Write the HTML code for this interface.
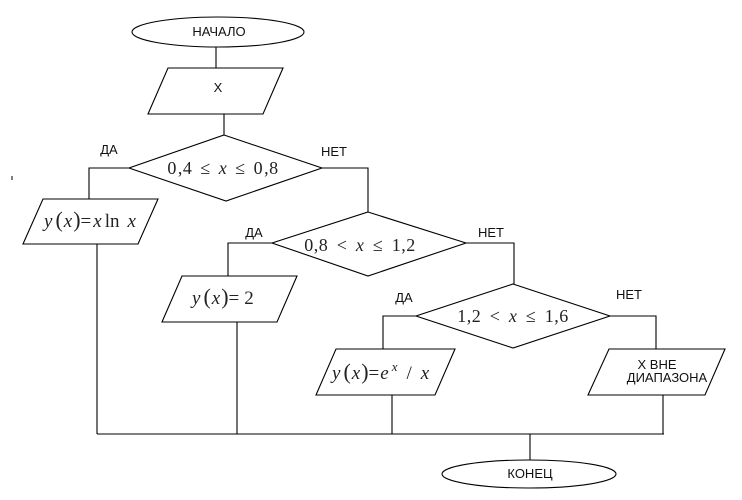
<!DOCTYPE html>
<html>
<head>
<meta charset="utf-8">
<style>
  html,body{margin:0;padding:0;background:#fff;}
  svg{display:block;}
  .lbl{font-family:"Liberation Sans",Arial,sans-serif;font-size:13px;fill:#111;}
  .m{font-family:"Liberation Serif","Times New Roman",serif;font-size:18px;fill:#222;}
  .i{font-style:italic;}
</style>
</head>
<body>
<svg width="742" height="500" viewBox="0 0 742 500" xmlns="http://www.w3.org/2000/svg">
  <rect width="742" height="500" fill="#fff"/>
  <g fill="none" stroke="#000" stroke-width="1.1">
    <!-- start -->
    <ellipse cx="218" cy="32" rx="86" ry="15"/>
    <line x1="216" y1="47" x2="216" y2="68"/>
    <polygon points="168,68 283,68 263,114 148,114"/>
    <line x1="224" y1="114" x2="224" y2="135"/>
    <!-- diamond 1 -->
    <polygon points="224,135 322,168 226,201 129,168"/>
    <polyline points="129,168 89,168 89,199"/>
    <polygon points="43,199 158,199 138,244 23,244"/>
    <line x1="97" y1="244" x2="97" y2="434"/>
    <polyline points="322,168 368,168 368,212"/>
    <!-- diamond 2 -->
    <polygon points="368,212 466,243 368,276 272,243"/>
    <polyline points="272,243 228,243 228,276"/>
    <polygon points="182,276 297,276 277,322 162,322"/>
    <line x1="237" y1="322" x2="237" y2="434"/>
    <polyline points="466,243 514,243 514,284"/>
    <!-- diamond 3 -->
    <polygon points="513,284 610,316 513,348 416,316"/>
    <polyline points="416,316 383,316 383,349"/>
    <polygon points="336,349 455,349 435,395 316,395"/>
    <line x1="392" y1="395" x2="392" y2="434"/>
    <polyline points="610,316 656,316 656,349"/>
    <polygon points="609,349 725,349 705,395 588,395"/>
    <line x1="663" y1="395" x2="663" y2="434"/>
    <!-- bus -->
    <line x1="97" y1="434" x2="664" y2="434"/>
    <line x1="530" y1="434" x2="530" y2="460"/>
    <ellipse cx="529" cy="474" rx="87" ry="14"/>
    <line x1="12" y1="176" x2="12" y2="180" stroke-width="1"/>
  </g>

  <!-- labels -->
  <text class="lbl" x="219" y="36" text-anchor="middle">НАЧАЛО</text>
  <text class="lbl" x="218" y="92" text-anchor="middle">X</text>
  <text class="lbl" x="109" y="154" text-anchor="middle">ДА</text>
  <text class="lbl" x="334" y="156" text-anchor="middle">НЕТ</text>
  <text class="lbl" x="254" y="237" text-anchor="middle">ДА</text>
  <text class="lbl" x="491" y="237" text-anchor="middle">НЕТ</text>
  <text class="lbl" x="404" y="302" text-anchor="middle">ДА</text>
  <text class="lbl" x="629" y="299" text-anchor="middle">НЕТ</text>
  <text class="lbl" x="657" y="369" text-anchor="middle">X ВНЕ</text>
  <text class="lbl" x="667" y="382" text-anchor="middle">ДИАПАЗОНА</text>
  <text class="lbl" x="530" y="478" text-anchor="middle">КОНЕЦ</text>

  <!-- math -->
  <text class="m" x="223" y="174" text-anchor="middle" xml:space="preserve" style="letter-spacing:0.5px;word-spacing:3px">0<tspan dx="1">,</tspan>4 ≤ <tspan class="i">x</tspan> ≤ 0<tspan dx="1">,</tspan>8</text>
  <text class="m" x="360" y="251" text-anchor="middle" xml:space="preserve" style="letter-spacing:0.5px;word-spacing:3.5px">0,8 &lt; <tspan class="i">x</tspan> ≤ 1,2</text>
  <text class="m" x="513" y="322" text-anchor="middle" xml:space="preserve" style="letter-spacing:0.5px;word-spacing:3.5px">1,2 &lt; <tspan class="i">x</tspan> ≤ 1,6</text>

  <text class="m" x="44" y="227" style="font-size:19px"><tspan class="i">y</tspan><tspan dx="3" style="font-size:22px">(</tspan><tspan class="i" dx="1">x</tspan><tspan dx="1" style="font-size:22px">)</tspan><tspan>=</tspan><tspan class="i" dx="2">x</tspan><tspan dx="3">ln</tspan><tspan dx="8" class="i">x</tspan></text>

  <text class="m" x="192" y="304" style="font-size:19px"><tspan class="i">y</tspan><tspan dx="3" style="font-size:22px">(</tspan><tspan class="i" dx="1">x</tspan><tspan dx="1" style="font-size:22px">)</tspan><tspan>=</tspan><tspan dx="5">2</tspan></text>

  <text class="m" x="332" y="379" style="font-size:19px"><tspan class="i">y</tspan><tspan dx="3" style="font-size:22px">(</tspan><tspan class="i" dx="1">x</tspan><tspan dx="1" style="font-size:22px">)</tspan><tspan>=</tspan><tspan class="i" dx="1">e</tspan><tspan class="i" dx="3" dy="-8" style="font-size:13px">x</tspan><tspan dy="8" dx="9">/</tspan><tspan class="i" dx="9">x</tspan></text>
</svg>
</body>
</html>
